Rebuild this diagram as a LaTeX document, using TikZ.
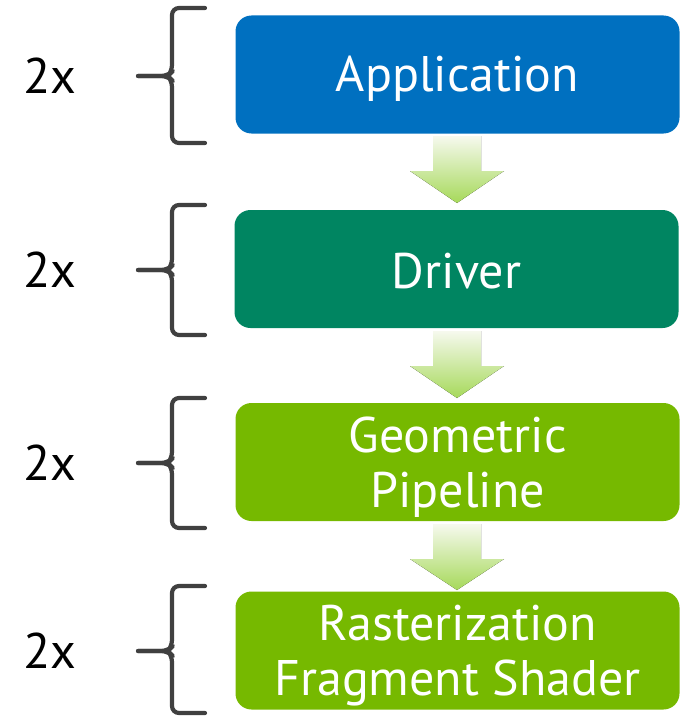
\documentclass[tikz,border=0pt]{standalone}
\usepackage{fontspec}
\setmainfont{PT Sans}
\definecolor{appblue}{HTML}{0070C0}
\definecolor{drvgreen}{HTML}{008561}
\definecolor{nvgreen}{HTML}{76B900}
\definecolor{braceg}{HTML}{404040}
\definecolor{arrowtop}{HTML}{F6F9EE}
\definecolor{arrowbot}{HTML}{A6D95A}
\begin{document}
\begin{tikzpicture}[x=1pt,y=-1pt,
  stagebox/.style={draw=none, fill=#1, rounded corners=16pt, minimum width=444pt,
    minimum height=118pt, inner sep=0pt},
  stagetext/.style={text=white, align=center, inner sep=0pt,
    font=\fontsize{50}{55}\selectfont},
  countlabel/.style={font=\fontsize{50}{55}\selectfont, text=black, inner sep=0pt},
  bracepath/.style={draw=braceg, line width=4.2pt, line cap=round, line join=round, rounded corners=7pt},
  flowarrow/.style={top color=arrowtop, bottom color=arrowbot, draw=none}
]
\useasboundingbox (0,0) rectangle (690,717);

% stages
\node[stagebox=appblue]  (app) at (457.5,74.5)  {};
\node[stagebox=drvgreen] (drv) at (456.5,269)   {};
\node[stagebox=nvgreen]  (geo) at (457.5,462)   {};
\node[stagebox=nvgreen]  (ras) at (457.5,650.5) {};
\node[stagetext] (appt) at ([yshift=-4pt]app.center) {Application};
\node[stagetext] (drvt) at ([yshift=-2pt]drv.center) {Driver};
\node[stagetext] (geot) at ([yshift=-5pt]geo.center) {Geometric\\Pipeline};
\node[stagetext] (rast) at ([yshift=-5pt]ras.center) {Rasterization\\Fragment Shader};

% flow arrows between stages
\newcommand{\flowarrowat}[3]{%
  \fill[flowarrow] (#1-24,#2) -- (#1+24,#2) -- (#1+24,#2+35) -- (#1+47,#2+35)
    -- (#1,#3) -- (#1-47,#2+35) -- (#1-24,#2+35) -- cycle;}
\flowarrowat{457}{136}{203}
\flowarrowat{457}{331}{398}
\flowarrowat{457}{524}{590}

% braces with repeat counts
\newcommand{\repbrace}[4]{%
  \draw[bracepath] (205,#1) -- (172,#1) -- (172,#2-4) -- (168,#2) -- (138,#2);
  \draw[bracepath] (138,#2) -- (168,#2) -- (172,#2+4) -- (172,#3) -- (205,#3);
  \node[countlabel] (#4) at (50,#2) {2x};}
\repbrace{8}{76}{143}{c1}
\repbrace{205}{270}{335}{c2}
\repbrace{398}{463}{528}{c3}
\repbrace{586}{651}{713}{c4}
\end{tikzpicture}
\end{document}
